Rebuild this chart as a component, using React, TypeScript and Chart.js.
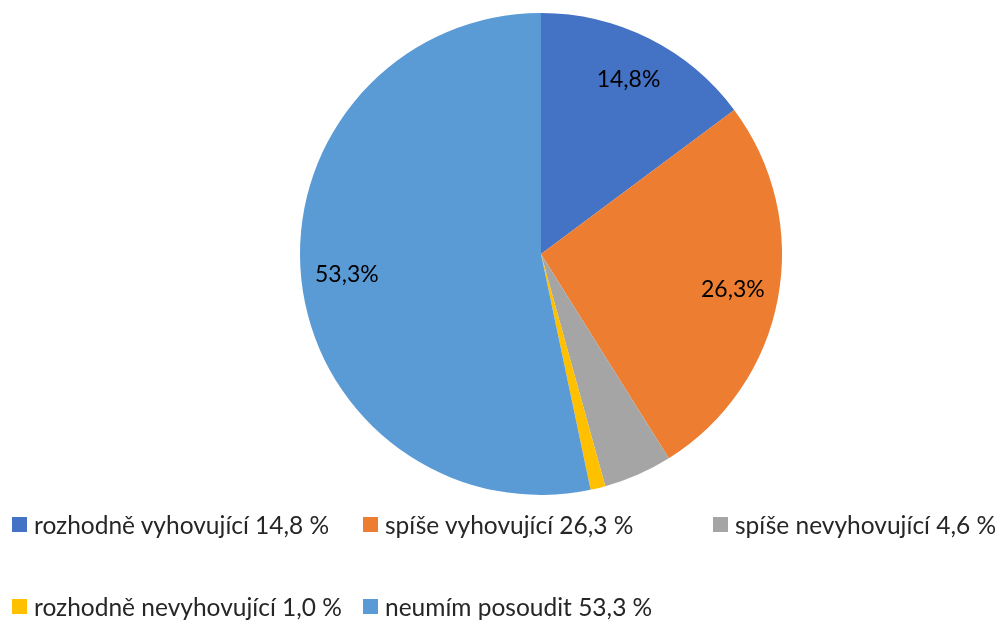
import React, { useEffect, useRef } from "react";
import { Chart, registerables } from "chart.js";

Chart.register(...registerables);

const categories = [
  "rozhodně vyhovující",
  "spíše vyhovující",
  "spíše nevyhovující",
  "rozhodně nevyhovující",
  "neumím posoudit",
];
const values = [14.8, 26.3, 4.6, 1.0, 53.3];
const colors = ["#4472C4", "#ED7D31", "#A5A5A5", "#FFC000", "#5B9BD5"];

const FONT = "Lato, 'Open Sans', sans-serif";
const fmt = (v: number) => v.toFixed(1).replace(".", ",");

const labelPlugin = {
  id: "sliceLabels",
  afterDatasetsDraw(chart: any) {
    const ctx = chart.ctx;
    const meta = chart.getDatasetMeta(0);
    ctx.save();
    ctx.font = `23px ${FONT}`;
    ctx.fillStyle = "#000000";
    ctx.textAlign = "center";
    ctx.textBaseline = "middle";
    meta.data.forEach((arc: any, i: number) => {
      const v = values[i];
      if (v < 10) return;
      const { x, y, startAngle, endAngle, outerRadius } = arc.getProps(
        ["x", "y", "startAngle", "endAngle", "outerRadius"],
        true
      );
      const mid = (startAngle + endAngle) / 2;
      const r = outerRadius * 0.81;
      ctx.fillText(fmt(v) + "%", x + Math.cos(mid) * r, y + Math.sin(mid) * r);
    });
    ctx.restore();
  },
};

// legend layout: [left, centerY] per item
const legendPos: [number, number][] = [
  [12, 524],
  [363, 524],
  [713, 524],
  [12, 606],
  [363, 606],
];

export default function App() {
  const ref = useRef<HTMLCanvasElement>(null);
  useEffect(() => {
    if (!ref.current) return;
    const chart = new Chart(ref.current, {
      type: "pie",
      data: {
        labels: categories,
        datasets: [
          {
            data: values,
            backgroundColor: colors,
            borderWidth: 0,
          },
        ],
      },
      options: {
        responsive: false,
        animation: false,
        layout: { padding: { top: 13, bottom: 127, left: 300, right: 217 } },
        plugins: {
          legend: { display: false },
          tooltip: { enabled: false },
        },
      },
      plugins: [labelPlugin],
    });
    return () => chart.destroy();
  }, []);

  return (
    <div
      style={{
        position: "absolute",
        left: 0,
        top: 0,
        width: 999,
        height: 622,
        background: "#ffffff",
        overflow: "hidden",
      }}
    >
      <canvas ref={ref} width={999} height={622} style={{ display: "block" }} />
      {categories.map((c, i) => (
        <div
          key={c}
          style={{
            position: "absolute",
            left: legendPos[i][0],
            top: legendPos[i][1] - 16,
            height: 32,
            display: "flex",
            alignItems: "center",
            whiteSpace: "nowrap",
            fontFamily: FONT,
            fontSize: 24.5,
            color: "#262626",
          }}
        >
          <span
            style={{
              display: "inline-block",
              width: 15,
              height: 15,
              background: colors[i],
              marginRight: 7,
            }}
          />
          <span>{`${c} ${fmt(values[i])} %`}</span>
        </div>
      ))}
    </div>
  );
}
